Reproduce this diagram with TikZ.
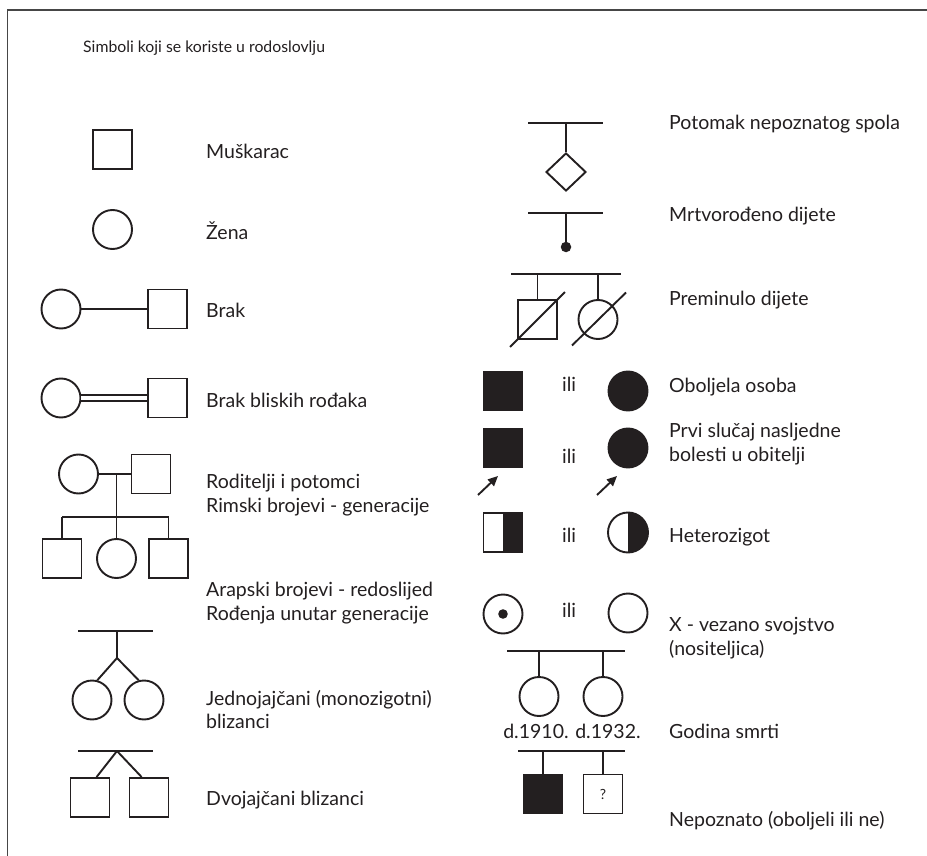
\documentclass[tikz,border=0pt]{standalone}
\usepackage{fontspec}
\setmainfont{Lato}
\usetikzlibrary{shapes.geometric,arrows.meta,calc}
\definecolor{ink}{RGB}{35,31,32}
\definecolor{framec}{RGB}{70,70,70}
\begin{document}
\begin{tikzpicture}[x=1pt,y=-1pt,
  ln/.style={line width=1.9pt, draw=ink},
  sq/.style={ln, rectangle, minimum size=39pt, inner sep=0pt},
  ci/.style={ln, circle, minimum size=39pt, inner sep=0pt},
  fsq/.style={sq, fill=ink},
  fci/.style={ci, fill=ink},
  lbl/.style={anchor=base west, inner sep=0pt, text=ink, font=\fontsize{19.5}{24}\selectfont},
  ttl/.style={anchor=base west, inner sep=0pt, text=ink, font=\fontsize{15.8}{19}\selectfont},
  arr/.style={ln, -{Triangle[length=10pt,width=9pt]}}
]
\useasboundingbox (0,0) rectangle (927,856);
\draw[line width=1.3pt, framec] (927,10) -- (7.5,10) -- (7.5,856);

\node[ttl] (title) at (83,53) {Simboli koji se koriste u rodoslovlju};

% ---------- left column ----------
\node[sq] (m) at (112.5,149.5) {};
\node[lbl] (tm) at (206,159) {Muškarac};
\node[ci] (z) at (112.5,229.5) {};
\node[lbl] (tz) at (206,240) {Žena};

\node[ci] (bz) at (61,309) {};
\node[sq] (bm) at (167.5,309) {};
\draw[ln] (bz) -- (bm);
\node[lbl] (tb) at (206,317) {Brak};

\node[ci] (kz) at (61,398) {};
\node[sq] (km) at (167.5,398) {};
\draw[ln, double=white, double distance=4.5pt] (kz) -- (km);
\node[lbl] (tk) at (206,407) {Brak bliskih rođaka};

\node[ci] (pz) at (78.5,474) {};
\node[sq] (pm) at (151,474) {};
\draw[ln] (pz) -- (pm);
\coordinate (pmid) at (116.5,474);
\coordinate (sibl) at (62,517);
\coordinate (sibr) at (168.5,517);
\node[sq] (c1) at (62,558.5) {};
\node[ci] (c2) at (116.5,558.5) {};
\node[sq] (c3) at (168.5,558.5) {};
\draw[ln] (pmid) -- (pmid |- sibl);
\draw[ln] (sibl) -- (sibr);
\draw[ln] (sibl) -- (c1.north);
\draw[ln] (pmid |- sibl) -- (c2.north);
\draw[ln] (sibr) -- (c3.north);
\node[lbl] (tp1) at (206,488) {Roditelji i potomci};
\node[lbl] (tp2) at (206,512) {Rimski brojevi - generacije};
\node[lbl] (tp3) at (206,596) {Arapski brojevi - redoslijed};
\node[lbl] (tp4) at (206,620) {Rođenja unutar generacije};

\coordinate (mzl) at (78,631);
\coordinate (mzr) at (153,631);
\coordinate (mzt) at (117,631);
\coordinate (mza) at (117,658);
\node[ci] (mz1) at (92,700) {};
\node[ci] (mz2) at (144,700) {};
\draw[ln] (mzl) -- (mzr);
\draw[ln] (mzt) -- (mza);
\draw[ln] (mza) -- (mz1.75);
\draw[ln] (mza) -- (mz2.105);
\node[lbl] (tmz1) at (206,705) {Jednojajčani (monozigotni)};
\node[lbl] (tmz2) at (206,728) {blizanci};

\coordinate (dzl) at (78,751);
\coordinate (dzr) at (153,751);
\coordinate (dza) at (117,751);
\node[sq] (dz1) at (90,797.5) {};
\node[sq] (dz2) at (149,797.5) {};
\draw[ln] (dzl) -- (dzr);
\draw[ln] (dza) -- ($(dz1.north west)!0.66!(dz1.north east)$);
\draw[ln] (dza) -- ($(dz2.north west)!0.32!(dz2.north east)$);
\node[lbl] (tdz) at (206,805) {Dvojajčani blizanci};

% ---------- right column ----------
\coordinate (ul) at (528,123);
\coordinate (ur) at (603,123);
\node[ln, diamond, minimum width=40pt, minimum height=38pt, inner sep=0pt] (un) at (566,172) {};
\draw[ln] (ul) -- (ur);
\draw[ln] (un.north |- ul) -- (un.north);
\node[lbl] (tun) at (669,130) {Potomak nepoznatog spola};

\coordinate (sbl) at (528,213);
\coordinate (sbr) at (603,213);
\node[circle, fill=ink, minimum size=10.5pt, inner sep=0pt] (sb) at (566,247) {};
\draw[ln] (sbl) -- (sbr);
\draw[ln] (sb |- sbl) -- (sb.center);
\node[lbl] (tsb) at (669,222) {Mrtvorođeno dijete};

\coordinate (dbl) at (511,274);
\coordinate (dbr) at (621,274);
\node[sq] (d1) at (537.5,319.5) {};
\node[ci] (d2) at (598,319.5) {};
\draw[ln] (dbl) -- (dbr);
\draw[ln] (d1 |- dbl) -- (d1.north);
\draw[ln] (d2 |- dbl) -- (d2.north);
\draw[ln] ($(d1.south west)+(-7,7)$) -- ($(d1.north east)+(7,-7)$);
\draw[ln] ($(d2.center)+(-26,26)$) -- ($(d2.center)+(28,-27)$);
\node[lbl] (td) at (669,305) {Preminulo dijete};

\node[fsq] (a1) at (503,391) {};
\node[lbl] (ili1) at (562,391) {ili};
\node[fci] (a2) at (628,391) {};
\node[lbl] (ta) at (669,392) {Oboljela osoba};

\node[fsq] (p1) at (503,448) {};
\node[lbl] (ili2) at (562,463) {ili};
\node[fci] (p2) at (628,448) {};
\coordinate (ar1s) at (478,495);
\coordinate (ar1e) at (498,476);
\coordinate (ar2s) at (597,495);
\coordinate (ar2e) at (617,476);
\draw[arr] (ar1s) -- (ar1e);
\draw[arr] (ar2s) -- (ar2e);
\node[lbl] (tpr1) at (669,437) {Prvi slučaj nasljedne};
\node[lbl] (tpr2) at (669,461) {bolesti u obitelji};

\node[sq, path picture={\fill[ink] (path picture bounding box.north) rectangle (path picture bounding box.south east);}] (h1) at (503,532.5) {};
\node[lbl] (ili3) at (562,542) {ili};
\node[ci, minimum size=40pt, path picture={\fill[ink] (path picture bounding box.north) rectangle (path picture bounding box.south east);}] (h2) at (628,532.5) {};
\node[lbl] (th) at (669,542) {Heterozigot};

\node[ci, path picture={\fill[ink] (path picture bounding box.center) circle (4.8pt);}] (x1) at (503,614) {};
\node[lbl] (ili4) at (562,617) {ili};
\node[ci] (x2) at (628,613) {};
\node[lbl] (tx1) at (669,631) {X - vezano svojstvo};
\node[lbl] (tx2) at (669,655) {(nositeljica)};

\coordinate (gbl) at (507,651);
\coordinate (gbr) at (625,651);
\node[ci] (g1) at (539,696.5) {};
\node[ci] (g2) at (603,696.5) {};
\draw[ln] (gbl) -- (gbr);
\draw[ln] (g1 |- gbl) -- (g1.north);
\draw[ln] (g2 |- gbl) -- (g2.north);
\node[lbl, anchor=base] (gy) at (572,738) {d.1910. d.1932.};
\node[lbl] (tg) at (669,738) {Godina smrti};

\coordinate (nbl) at (518,751);
\coordinate (nbr) at (625,751);
\node[fsq] (n1) at (543,794) {};
\node[sq, font=\fontsize{14}{16}\selectfont, text=ink] (n2) at (603,794) {?};
\draw[ln] (nbl) -- (nbr);
\draw[ln] (n1 |- nbl) -- (n1.north);
\draw[ln] (n2 |- nbl) -- (n2.north);
\node[lbl] (tn) at (669,826) {Nepoznato (oboljeli ili ne)};
\end{tikzpicture}
\end{document}
